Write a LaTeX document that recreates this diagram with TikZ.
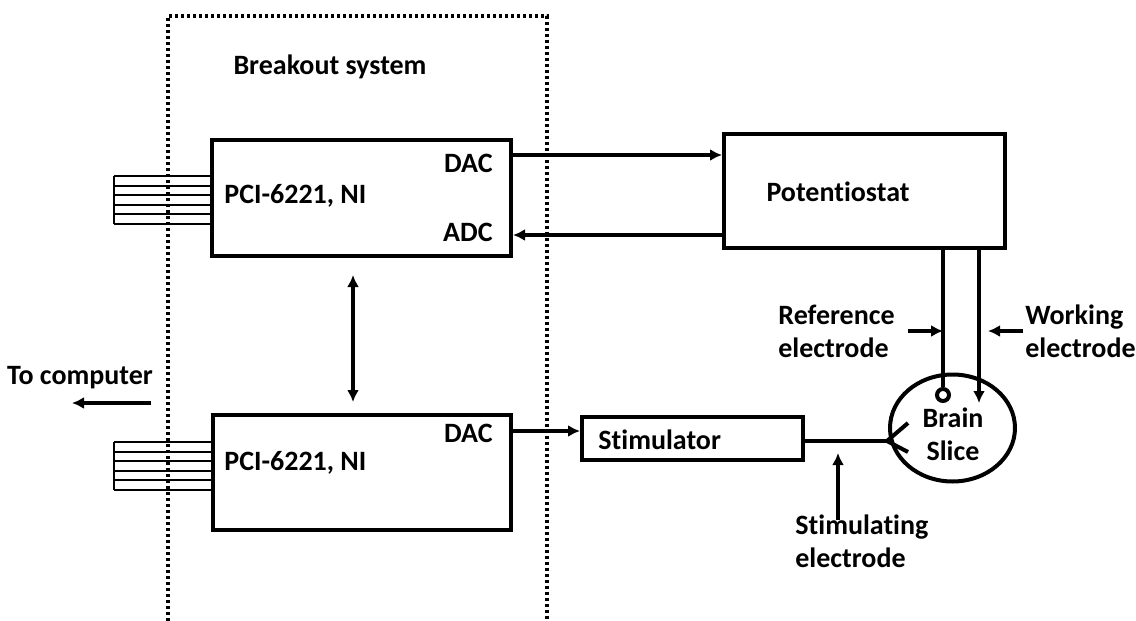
\documentclass[tikz,border=0pt]{standalone}
\usepackage{fontspec}
\setmainfont[Ligatures=NoCommon]{Carlito}
\usetikzlibrary{arrows.meta,shapes.geometric}
\tikzset{
  blockbox/.style={draw, line width=2pt, inner sep=0pt},
  lbl/.style={font=\bfseries\fontsize{14}{16.5}\selectfont, inner sep=0pt, align=left},
  sig/.style={line width=2pt, -{Latex[length=6pt,width=6pt]}},
  dsig/.style={line width=2pt, {Latex[length=6pt,width=6pt]}-{Latex[length=6pt,width=6pt]}},
  wire/.style={line width=2pt},
  bus/.style={line width=1pt},
}
\begin{document}
\begin{tikzpicture}[x=0.5pt,y=-0.5pt]
      \useasboundingbox (0,0) rectangle (1136,621);

      % breakout system
      \draw[line width=2pt, dash pattern=on 1.7pt off 1.3pt] (168,621) -- (168,16) -- (547,16) -- (547,621);
      \node[lbl] (brk) at (330,67) {Breakout system};

      \node[blockbox, minimum width=149.5pt, minimum height=58pt] (pci1) at (361.5,198) {};
      \node[blockbox, minimum width=149pt, minimum height=57.5pt] (pci2) at (362,472.5) {};
      \node[blockbox, minimum width=140.5pt, minimum height=57pt] (pot) at (864.5,191) {};
      \node[blockbox, minimum width=110.5pt, minimum height=21.5pt] (stim) at (692.5,438.5) {};
      \node[blockbox, ellipse, minimum width=62.5pt, minimum height=53.5pt] (slice) at (952.5,428) {};
      \node[blockbox, circle, minimum size=6pt] (ring) at (943,395) {};

      \node[lbl, anchor=west] (pcit1) at (224,196) {PCI-6221, NI};
      \node[lbl, anchor=east] (dac1) at (493,163) {DAC};
      \node[lbl, anchor=east] (adc1) at (493,232) {ADC};
      \node[lbl, anchor=west] (pcit2) at (224,463) {PCI-6221, NI};
      \node[lbl, anchor=east] (dac2) at (493,433) {DAC};
      \node[lbl] (pott) at (838,192) {Potentiostat};
      \node[lbl, anchor=west] (stimt) at (598,440) {Stimulator};
      \node[lbl] (brain) at (953,418) {Brain};
      \node[lbl] (slc) at (953,451) {Slice};
      \node[lbl] (tocomp) at (80,378) {To computer};
      \node[lbl, anchor=west] (reft) at (778,331) {Reference\\electrode};
      \node[lbl, anchor=west] (wkt) at (1025,331) {Working\\electrode};
      \node[lbl, anchor=west] (stt) at (795,541) {Stimulating\\electrode};

      % bus connectors
      \foreach \k in {0,...,5} {
        \draw[bus] (114,176+9.6*\k) -- ++(98,0);
        \draw[bus] (114,442+9.6*\k) -- ++(98,0);
      }
      \draw[bus] (114,176) -- (114,224);
      \draw[bus] (114,442) -- (114,490);

      % signals
      \coordinate (d1) at ([yshift=-8.5pt]pci1.north east);
      \coordinate (a1) at ([yshift=11.5pt]pci1.south east);
      \coordinate (d2) at ([yshift=-9pt]pci2.north east);
      \draw[sig] (d1) -- (d1 -| pot.west);
      \draw[sig] (a1 -| pot.west) -- (a1);
      \draw[sig] (d2) -- (d2 -| stim.west);
      \draw[dsig] ([xshift=-4.25pt,yshift=-8.5pt]pci1.south) -- ([xshift=-4.5pt,yshift=5.5pt]pci2.north);

      \coordinate (tc) at (151,403);
      \draw[sig] (tc) -- ++(-79,0);

      % electrodes
      \draw[wire] (pot.south -| ring.north) -- (ring.north);
      \coordinate (we) at (979,403);
      \draw[sig] (we |- pot.south) -- (we);
      \draw[sig] ([xshift=6.5pt]reft.east) -- ++(35,0);
      \draw[sig] ([xshift=-1pt]wkt.west) -- ++(-35,0);

      \coordinate (fork) at (887,441);
      \draw[wire] (stim.east |- fork) -- (fork);
      \draw[wire] (fork) -- ++(21,-18) (fork) -- ++(21,11);
      \coordinate (se) at (838,453);
      \draw[sig] ([yshift=-3pt]stt.north -| se) -- (se);
    \end{tikzpicture}
\end{document}
